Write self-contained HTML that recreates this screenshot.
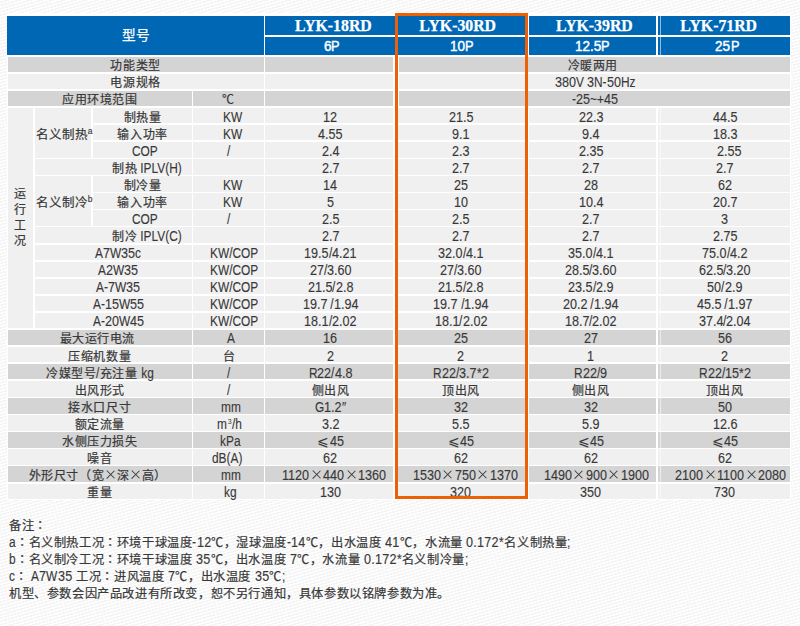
<!DOCTYPE html>
<html lang="zh-CN"><head><meta charset="utf-8"><style>
html,body{margin:0;padding:0;}
body{width:800px;height:626px;overflow:hidden;position:relative;background:repeating-linear-gradient(164deg,#fefefe 0 1.5px,#f5f5f5 1.5px 3.1px);
font-family:"Liberation Sans",sans-serif;color:#383838;-webkit-text-stroke:0.2px #383838;}
.b{position:absolute;}
.t,.hd,.hm,.hp{position:absolute;width:300px;text-align:center;white-space:pre;font-size:14px;line-height:15.45px;height:15.45px;}
.z{font-size:12.0px;letter-spacing:0.6px;}
.l{display:inline-block;transform-origin:0 0;white-space:pre;-webkit-text-stroke:0.12px #383838;}
.x{display:inline-block;position:relative;width:14px;height:9.6px;vertical-align:0.3px;-webkit-text-stroke:0;}
.x::before,.x::after{content:'';position:absolute;left:1.3px;top:4.0px;width:11.4px;height:1.1px;background:#3a3a3a;transform:rotate(45deg);}
.x::after{transform:rotate(-45deg);}
.xs{width:12.5px;} .xs::before,.xs::after{left:0.45px;}
.hd,.hm,.hp{-webkit-text-stroke:0.25px #fff;} .hd{color:#fff;} .hd .z{font-size:13.6px;letter-spacing:0;}
.hm{color:#fff;font-family:"Liberation Serif",serif;font-weight:bold;font-size:15.8px;line-height:18.4px;}
.hm .l{transform:none !important;margin-right:0 !important;} .hd .l,.hm .l{-webkit-text-stroke:0.25px #fff;} .hp .l{-webkit-text-stroke:0.45px #fff;}
.hp{color:#fff;font-size:15px;line-height:18.3px;-webkit-text-stroke:0.4px #fff;}
.vt{position:absolute;width:20px;text-align:center;font-size:12.0px;line-height:15.8px;}
.le{font-size:14px;-webkit-text-stroke:0;margin-right:0.5px;}
.s3{font-size:7px;vertical-align:5px;-webkit-text-stroke:0;margin:0 0.5px;}
sup{font-size:8.5px;line-height:0;vertical-align:5px;-webkit-text-stroke:0.15px #383838;}
.ob{position:absolute;border:3.3px solid #ee6008;box-sizing:border-box;}
.nt{position:absolute;font-size:14px;white-space:pre;line-height:17px;} .nt .z{font-size:12.25px;letter-spacing:0.6px;} .nt .l{letter-spacing:0.3px;}
</style></head><body>
<div class="b" style="left:6.5px;top:13px;width:784.5px;height:487px;background:#fff"></div>
<div class="b" style="left:7.20px;top:16.20px;width:256.40px;height:38.70px;background:#0067b5"></div>
<div class="b" style="left:265.40px;top:16.20px;width:130.10px;height:18.40px;background:#0067b5"></div>
<div class="b" style="left:265.40px;top:36.60px;width:130.10px;height:18.30px;background:#0067b5"></div>
<div class="b" style="left:395.00px;top:16.20px;width:131.70px;height:18.40px;background:#0067b5"></div>
<div class="b" style="left:395.00px;top:36.60px;width:131.70px;height:18.30px;background:#0067b5"></div>
<div class="b" style="left:528.50px;top:16.20px;width:127.50px;height:18.40px;background:#0067b5"></div>
<div class="b" style="left:528.50px;top:36.60px;width:127.50px;height:18.30px;background:#0067b5"></div>
<div class="b" style="left:658.30px;top:16.20px;width:132.20px;height:18.40px;background:#0067b5"></div>
<div class="b" style="left:658.30px;top:36.60px;width:132.20px;height:18.30px;background:#0067b5"></div>
<div class="b" style="left:7.50px;top:56.75px;width:256.10px;height:15.45px;background:#d4d4d4"></div>
<div class="b" style="left:265.40px;top:56.75px;width:127.90px;height:15.45px;background:#d4d4d4"></div>
<div class="b" style="left:398.90px;top:56.75px;width:391.60px;height:15.45px;background:#d4d4d4"></div>
<div class="b" style="left:7.50px;top:73.82px;width:256.10px;height:15.45px;background:#f0f0f0"></div>
<div class="b" style="left:265.40px;top:73.82px;width:127.90px;height:15.45px;background:#f0f0f0"></div>
<div class="b" style="left:398.90px;top:73.82px;width:391.60px;height:15.45px;background:#f0f0f0"></div>
<div class="b" style="left:7.50px;top:90.89px;width:184.50px;height:15.45px;background:#d4d4d4"></div>
<div class="b" style="left:193.00px;top:90.89px;width:70.60px;height:15.45px;background:#d4d4d4"></div>
<div class="b" style="left:265.40px;top:90.89px;width:127.90px;height:15.45px;background:#d4d4d4"></div>
<div class="b" style="left:398.90px;top:90.89px;width:391.60px;height:15.45px;background:#d4d4d4"></div>
<div class="b" style="left:92.50px;top:107.96px;width:99.50px;height:15.45px;background:#f0f0f0"></div>
<div class="b" style="left:193.00px;top:107.96px;width:70.60px;height:15.45px;background:#f0f0f0"></div>
<div class="b" style="left:265.40px;top:107.96px;width:127.90px;height:15.45px;background:#f0f0f0"></div>
<div class="b" style="left:395.00px;top:107.96px;width:131.70px;height:15.45px;background:#f0f0f0"></div>
<div class="b" style="left:528.50px;top:107.96px;width:127.50px;height:15.45px;background:#f0f0f0"></div>
<div class="b" style="left:658.30px;top:107.96px;width:132.20px;height:15.45px;background:#f0f0f0"></div>
<div class="b" style="left:92.50px;top:125.03px;width:99.50px;height:15.45px;background:#f0f0f0"></div>
<div class="b" style="left:193.00px;top:125.03px;width:70.60px;height:15.45px;background:#f0f0f0"></div>
<div class="b" style="left:265.40px;top:125.03px;width:127.90px;height:15.45px;background:#f0f0f0"></div>
<div class="b" style="left:395.00px;top:125.03px;width:131.70px;height:15.45px;background:#f0f0f0"></div>
<div class="b" style="left:528.50px;top:125.03px;width:127.50px;height:15.45px;background:#f0f0f0"></div>
<div class="b" style="left:658.30px;top:125.03px;width:132.20px;height:15.45px;background:#f0f0f0"></div>
<div class="b" style="left:92.50px;top:142.10px;width:99.50px;height:15.45px;background:#f0f0f0"></div>
<div class="b" style="left:193.00px;top:142.10px;width:70.60px;height:15.45px;background:#f0f0f0"></div>
<div class="b" style="left:265.40px;top:142.10px;width:127.90px;height:15.45px;background:#f0f0f0"></div>
<div class="b" style="left:395.00px;top:142.10px;width:131.70px;height:15.45px;background:#f0f0f0"></div>
<div class="b" style="left:528.50px;top:142.10px;width:127.50px;height:15.45px;background:#f0f0f0"></div>
<div class="b" style="left:658.30px;top:142.10px;width:132.20px;height:15.45px;background:#f0f0f0"></div>
<div class="b" style="left:34.80px;top:159.17px;width:157.20px;height:15.45px;background:#f0f0f0"></div>
<div class="b" style="left:193.00px;top:159.17px;width:70.60px;height:15.45px;background:#f0f0f0"></div>
<div class="b" style="left:265.40px;top:159.17px;width:127.90px;height:15.45px;background:#f0f0f0"></div>
<div class="b" style="left:395.00px;top:159.17px;width:131.70px;height:15.45px;background:#f0f0f0"></div>
<div class="b" style="left:528.50px;top:159.17px;width:127.50px;height:15.45px;background:#f0f0f0"></div>
<div class="b" style="left:658.30px;top:159.17px;width:132.20px;height:15.45px;background:#f0f0f0"></div>
<div class="b" style="left:92.50px;top:176.24px;width:99.50px;height:15.45px;background:#f0f0f0"></div>
<div class="b" style="left:193.00px;top:176.24px;width:70.60px;height:15.45px;background:#f0f0f0"></div>
<div class="b" style="left:265.40px;top:176.24px;width:127.90px;height:15.45px;background:#f0f0f0"></div>
<div class="b" style="left:395.00px;top:176.24px;width:131.70px;height:15.45px;background:#f0f0f0"></div>
<div class="b" style="left:528.50px;top:176.24px;width:127.50px;height:15.45px;background:#f0f0f0"></div>
<div class="b" style="left:658.30px;top:176.24px;width:132.20px;height:15.45px;background:#f0f0f0"></div>
<div class="b" style="left:92.50px;top:193.31px;width:99.50px;height:15.45px;background:#f0f0f0"></div>
<div class="b" style="left:193.00px;top:193.31px;width:70.60px;height:15.45px;background:#f0f0f0"></div>
<div class="b" style="left:265.40px;top:193.31px;width:127.90px;height:15.45px;background:#f0f0f0"></div>
<div class="b" style="left:395.00px;top:193.31px;width:131.70px;height:15.45px;background:#f0f0f0"></div>
<div class="b" style="left:528.50px;top:193.31px;width:127.50px;height:15.45px;background:#f0f0f0"></div>
<div class="b" style="left:658.30px;top:193.31px;width:132.20px;height:15.45px;background:#f0f0f0"></div>
<div class="b" style="left:92.50px;top:210.38px;width:99.50px;height:15.45px;background:#f0f0f0"></div>
<div class="b" style="left:193.00px;top:210.38px;width:70.60px;height:15.45px;background:#f0f0f0"></div>
<div class="b" style="left:265.40px;top:210.38px;width:127.90px;height:15.45px;background:#f0f0f0"></div>
<div class="b" style="left:395.00px;top:210.38px;width:131.70px;height:15.45px;background:#f0f0f0"></div>
<div class="b" style="left:528.50px;top:210.38px;width:127.50px;height:15.45px;background:#f0f0f0"></div>
<div class="b" style="left:658.30px;top:210.38px;width:132.20px;height:15.45px;background:#f0f0f0"></div>
<div class="b" style="left:34.80px;top:227.45px;width:157.20px;height:15.45px;background:#f0f0f0"></div>
<div class="b" style="left:193.00px;top:227.45px;width:70.60px;height:15.45px;background:#f0f0f0"></div>
<div class="b" style="left:265.40px;top:227.45px;width:127.90px;height:15.45px;background:#f0f0f0"></div>
<div class="b" style="left:395.00px;top:227.45px;width:131.70px;height:15.45px;background:#f0f0f0"></div>
<div class="b" style="left:528.50px;top:227.45px;width:127.50px;height:15.45px;background:#f0f0f0"></div>
<div class="b" style="left:658.30px;top:227.45px;width:132.20px;height:15.45px;background:#f0f0f0"></div>
<div class="b" style="left:34.80px;top:244.52px;width:157.20px;height:15.45px;background:#f0f0f0"></div>
<div class="b" style="left:193.00px;top:244.52px;width:70.60px;height:15.45px;background:#f0f0f0"></div>
<div class="b" style="left:265.40px;top:244.52px;width:127.90px;height:15.45px;background:#f0f0f0"></div>
<div class="b" style="left:395.00px;top:244.52px;width:131.70px;height:15.45px;background:#f0f0f0"></div>
<div class="b" style="left:528.50px;top:244.52px;width:127.50px;height:15.45px;background:#f0f0f0"></div>
<div class="b" style="left:658.30px;top:244.52px;width:132.20px;height:15.45px;background:#f0f0f0"></div>
<div class="b" style="left:34.80px;top:261.59px;width:157.20px;height:15.45px;background:#f0f0f0"></div>
<div class="b" style="left:193.00px;top:261.59px;width:70.60px;height:15.45px;background:#f0f0f0"></div>
<div class="b" style="left:265.40px;top:261.59px;width:127.90px;height:15.45px;background:#f0f0f0"></div>
<div class="b" style="left:395.00px;top:261.59px;width:131.70px;height:15.45px;background:#f0f0f0"></div>
<div class="b" style="left:528.50px;top:261.59px;width:127.50px;height:15.45px;background:#f0f0f0"></div>
<div class="b" style="left:658.30px;top:261.59px;width:132.20px;height:15.45px;background:#f0f0f0"></div>
<div class="b" style="left:34.80px;top:278.66px;width:157.20px;height:15.45px;background:#f0f0f0"></div>
<div class="b" style="left:193.00px;top:278.66px;width:70.60px;height:15.45px;background:#f0f0f0"></div>
<div class="b" style="left:265.40px;top:278.66px;width:127.90px;height:15.45px;background:#f0f0f0"></div>
<div class="b" style="left:395.00px;top:278.66px;width:131.70px;height:15.45px;background:#f0f0f0"></div>
<div class="b" style="left:528.50px;top:278.66px;width:127.50px;height:15.45px;background:#f0f0f0"></div>
<div class="b" style="left:658.30px;top:278.66px;width:132.20px;height:15.45px;background:#f0f0f0"></div>
<div class="b" style="left:34.80px;top:295.73px;width:157.20px;height:15.45px;background:#f0f0f0"></div>
<div class="b" style="left:193.00px;top:295.73px;width:70.60px;height:15.45px;background:#f0f0f0"></div>
<div class="b" style="left:265.40px;top:295.73px;width:127.90px;height:15.45px;background:#f0f0f0"></div>
<div class="b" style="left:395.00px;top:295.73px;width:131.70px;height:15.45px;background:#f0f0f0"></div>
<div class="b" style="left:528.50px;top:295.73px;width:127.50px;height:15.45px;background:#f0f0f0"></div>
<div class="b" style="left:658.30px;top:295.73px;width:132.20px;height:15.45px;background:#f0f0f0"></div>
<div class="b" style="left:34.80px;top:312.80px;width:157.20px;height:15.45px;background:#f0f0f0"></div>
<div class="b" style="left:193.00px;top:312.80px;width:70.60px;height:15.45px;background:#f0f0f0"></div>
<div class="b" style="left:265.40px;top:312.80px;width:127.90px;height:15.45px;background:#f0f0f0"></div>
<div class="b" style="left:395.00px;top:312.80px;width:131.70px;height:15.45px;background:#f0f0f0"></div>
<div class="b" style="left:528.50px;top:312.80px;width:127.50px;height:15.45px;background:#f0f0f0"></div>
<div class="b" style="left:658.30px;top:312.80px;width:132.20px;height:15.45px;background:#f0f0f0"></div>
<div class="b" style="left:7.50px;top:329.87px;width:184.50px;height:15.45px;background:#d4d4d4"></div>
<div class="b" style="left:193.00px;top:329.87px;width:70.60px;height:15.45px;background:#d4d4d4"></div>
<div class="b" style="left:265.40px;top:329.87px;width:127.90px;height:15.45px;background:#d4d4d4"></div>
<div class="b" style="left:395.00px;top:329.87px;width:131.70px;height:15.45px;background:#d4d4d4"></div>
<div class="b" style="left:528.50px;top:329.87px;width:127.50px;height:15.45px;background:#d4d4d4"></div>
<div class="b" style="left:658.30px;top:329.87px;width:132.20px;height:15.45px;background:#d4d4d4"></div>
<div class="b" style="left:7.50px;top:346.94px;width:184.50px;height:15.45px;background:#f0f0f0"></div>
<div class="b" style="left:193.00px;top:346.94px;width:70.60px;height:15.45px;background:#f0f0f0"></div>
<div class="b" style="left:265.40px;top:346.94px;width:127.90px;height:15.45px;background:#f0f0f0"></div>
<div class="b" style="left:395.00px;top:346.94px;width:131.70px;height:15.45px;background:#f0f0f0"></div>
<div class="b" style="left:528.50px;top:346.94px;width:127.50px;height:15.45px;background:#f0f0f0"></div>
<div class="b" style="left:658.30px;top:346.94px;width:132.20px;height:15.45px;background:#f0f0f0"></div>
<div class="b" style="left:7.50px;top:364.01px;width:184.50px;height:15.45px;background:#d4d4d4"></div>
<div class="b" style="left:193.00px;top:364.01px;width:70.60px;height:15.45px;background:#d4d4d4"></div>
<div class="b" style="left:265.40px;top:364.01px;width:127.90px;height:15.45px;background:#d4d4d4"></div>
<div class="b" style="left:395.00px;top:364.01px;width:131.70px;height:15.45px;background:#d4d4d4"></div>
<div class="b" style="left:528.50px;top:364.01px;width:127.50px;height:15.45px;background:#d4d4d4"></div>
<div class="b" style="left:658.30px;top:364.01px;width:132.20px;height:15.45px;background:#d4d4d4"></div>
<div class="b" style="left:7.50px;top:381.08px;width:184.50px;height:15.45px;background:#f0f0f0"></div>
<div class="b" style="left:193.00px;top:381.08px;width:70.60px;height:15.45px;background:#f0f0f0"></div>
<div class="b" style="left:265.40px;top:381.08px;width:127.90px;height:15.45px;background:#f0f0f0"></div>
<div class="b" style="left:395.00px;top:381.08px;width:131.70px;height:15.45px;background:#f0f0f0"></div>
<div class="b" style="left:528.50px;top:381.08px;width:127.50px;height:15.45px;background:#f0f0f0"></div>
<div class="b" style="left:658.30px;top:381.08px;width:132.20px;height:15.45px;background:#f0f0f0"></div>
<div class="b" style="left:7.50px;top:398.15px;width:184.50px;height:15.45px;background:#d4d4d4"></div>
<div class="b" style="left:193.00px;top:398.15px;width:70.60px;height:15.45px;background:#d4d4d4"></div>
<div class="b" style="left:265.40px;top:398.15px;width:127.90px;height:15.45px;background:#d4d4d4"></div>
<div class="b" style="left:395.00px;top:398.15px;width:131.70px;height:15.45px;background:#d4d4d4"></div>
<div class="b" style="left:528.50px;top:398.15px;width:127.50px;height:15.45px;background:#d4d4d4"></div>
<div class="b" style="left:658.30px;top:398.15px;width:132.20px;height:15.45px;background:#d4d4d4"></div>
<div class="b" style="left:7.50px;top:415.22px;width:184.50px;height:15.45px;background:#f0f0f0"></div>
<div class="b" style="left:193.00px;top:415.22px;width:70.60px;height:15.45px;background:#f0f0f0"></div>
<div class="b" style="left:265.40px;top:415.22px;width:127.90px;height:15.45px;background:#f0f0f0"></div>
<div class="b" style="left:395.00px;top:415.22px;width:131.70px;height:15.45px;background:#f0f0f0"></div>
<div class="b" style="left:528.50px;top:415.22px;width:127.50px;height:15.45px;background:#f0f0f0"></div>
<div class="b" style="left:658.30px;top:415.22px;width:132.20px;height:15.45px;background:#f0f0f0"></div>
<div class="b" style="left:7.50px;top:432.29px;width:184.50px;height:15.45px;background:#d4d4d4"></div>
<div class="b" style="left:193.00px;top:432.29px;width:70.60px;height:15.45px;background:#d4d4d4"></div>
<div class="b" style="left:265.40px;top:432.29px;width:127.90px;height:15.45px;background:#d4d4d4"></div>
<div class="b" style="left:395.00px;top:432.29px;width:131.70px;height:15.45px;background:#d4d4d4"></div>
<div class="b" style="left:528.50px;top:432.29px;width:127.50px;height:15.45px;background:#d4d4d4"></div>
<div class="b" style="left:658.30px;top:432.29px;width:132.20px;height:15.45px;background:#d4d4d4"></div>
<div class="b" style="left:7.50px;top:449.36px;width:184.50px;height:15.45px;background:#f0f0f0"></div>
<div class="b" style="left:193.00px;top:449.36px;width:70.60px;height:15.45px;background:#f0f0f0"></div>
<div class="b" style="left:265.40px;top:449.36px;width:127.90px;height:15.45px;background:#f0f0f0"></div>
<div class="b" style="left:395.00px;top:449.36px;width:131.70px;height:15.45px;background:#f0f0f0"></div>
<div class="b" style="left:528.50px;top:449.36px;width:127.50px;height:15.45px;background:#f0f0f0"></div>
<div class="b" style="left:658.30px;top:449.36px;width:132.20px;height:15.45px;background:#f0f0f0"></div>
<div class="b" style="left:7.50px;top:466.43px;width:184.50px;height:15.45px;background:#d4d4d4"></div>
<div class="b" style="left:193.00px;top:466.43px;width:70.60px;height:15.45px;background:#d4d4d4"></div>
<div class="b" style="left:265.40px;top:466.43px;width:127.90px;height:15.45px;background:#d4d4d4"></div>
<div class="b" style="left:395.00px;top:466.43px;width:131.70px;height:15.45px;background:#d4d4d4"></div>
<div class="b" style="left:528.50px;top:466.43px;width:127.50px;height:15.45px;background:#d4d4d4"></div>
<div class="b" style="left:658.30px;top:466.43px;width:132.20px;height:15.45px;background:#d4d4d4"></div>
<div class="b" style="left:7.50px;top:483.50px;width:184.50px;height:15.45px;background:#f0f0f0"></div>
<div class="b" style="left:193.00px;top:483.50px;width:70.60px;height:15.45px;background:#f0f0f0"></div>
<div class="b" style="left:265.40px;top:483.50px;width:127.90px;height:15.45px;background:#f0f0f0"></div>
<div class="b" style="left:395.00px;top:483.50px;width:131.70px;height:15.45px;background:#f0f0f0"></div>
<div class="b" style="left:528.50px;top:483.50px;width:127.50px;height:15.45px;background:#f0f0f0"></div>
<div class="b" style="left:658.30px;top:483.50px;width:132.20px;height:15.45px;background:#f0f0f0"></div>
<div class="b" style="left:660.00px;top:16.20px;width:1.00px;height:38.70px;background:rgba(255,255,255,0.55)"></div>
<div class="b" style="left:660.00px;top:107.96px;width:1.00px;height:390.99px;background:rgba(255,255,255,0.55)"></div>
<div class="b" style="left:7.50px;top:107.96px;width:25.50px;height:220.29px;background:#f0f0f0"></div>
<div class="b" style="left:34.80px;top:107.96px;width:56.00px;height:49.59px;background:#f0f0f0"></div>
<div class="b" style="left:34.80px;top:176.24px;width:56.00px;height:49.59px;background:#f0f0f0"></div>
<div class="hd" style="left:-14.00px;top:27.70px;"><span class="z">型号</span></div>
<div class="hm" style="left:183.40px;top:16.60px;"><span class="l" style="transform:scaleX(0.85);margin-right:-4.51px">LYK-</span><span class="l" style="transform:scaleX(0.9);margin-right:-1.56px">18</span><span class="l" style="transform:scaleX(0.85);margin-right:-3.04px">RD</span></div>
<div class="hp" style="left:181.70px;top:36.60px;"><span class="l" style="transform:scaleX(0.9);margin-right:-0.78px">6</span><span class="l" style="transform:scaleX(0.85);margin-right:-1.40px">P</span></div>
<div class="hm" style="left:307.70px;top:16.60px;"><span class="l" style="transform:scaleX(0.85);margin-right:-4.51px">LYK-</span><span class="l" style="transform:scaleX(0.9);margin-right:-1.56px">30</span><span class="l" style="transform:scaleX(0.85);margin-right:-3.04px">RD</span></div>
<div class="hp" style="left:311.80px;top:36.60px;"><span class="l" style="transform:scaleX(0.9);margin-right:-1.56px">10</span><span class="l" style="transform:scaleX(0.85);margin-right:-1.40px">P</span></div>
<div class="hm" style="left:444.40px;top:16.60px;"><span class="l" style="transform:scaleX(0.85);margin-right:-4.51px">LYK-</span><span class="l" style="transform:scaleX(0.9);margin-right:-1.56px">39</span><span class="l" style="transform:scaleX(0.85);margin-right:-3.04px">RD</span></div>
<div class="hp" style="left:442.50px;top:36.60px;"><span class="l" style="transform:scaleX(0.9);margin-right:-2.72px">12.5</span><span class="l" style="transform:scaleX(0.85);margin-right:-1.40px">P</span></div>
<div class="hm" style="left:568.70px;top:16.60px;"><span class="l" style="transform:scaleX(0.85);margin-right:-4.51px">LYK-</span><span class="l" style="transform:scaleX(0.9);margin-right:-1.56px">71</span><span class="l" style="transform:scaleX(0.85);margin-right:-3.04px">RD</span></div>
<div class="hp" style="left:577.30px;top:36.60px;"><span class="l" style="transform:scaleX(0.9);margin-right:-1.56px">25</span><span class="l" style="transform:scaleX(0.85);margin-right:-1.40px">P</span></div>
<div class="t" style="left:-14.45px;top:58.35px;"><span class="z">功能类型</span></div>
<div class="t" style="left:442.80px;top:58.35px;"><span class="z">冷暖两用</span></div>
<div class="t" style="left:-14.45px;top:75.42px;"><span class="z">电源规格</span></div>
<div class="t" style="left:445.00px;top:75.42px;"><span class="l" style="transform:scaleX(0.9);margin-right:-2.34px">380</span><span class="l" style="transform:scaleX(0.85);margin-right:-1.99px">V </span><span class="l" style="transform:scaleX(0.9);margin-right:-0.78px">3</span><span class="l" style="transform:scaleX(0.85);margin-right:-2.22px">N-</span><span class="l" style="transform:scaleX(0.9);margin-right:-1.56px">50</span><span class="l" style="transform:scaleX(0.85);margin-right:-2.57px">Hz</span></div>
<div class="t" style="left:-50.25px;top:92.49px;"><span class="z">应用环境范围</span></div>
<div class="t" style="left:78.40px;top:92.49px;"><span class="z">℃</span></div>
<div class="t" style="left:445.30px;top:92.49px;"><span class="l" style="transform:scaleX(0.85);margin-right:-0.70px">-</span><span class="l" style="transform:scaleX(0.9);margin-right:-1.56px">25</span><span class="l" style="transform:scaleX(0.85);margin-right:-2.45px">~+</span><span class="l" style="transform:scaleX(0.9);margin-right:-1.56px">45</span></div>
<div class="t" style="left:-7.40px;top:109.56px;"><span class="z">制热量</span></div>
<div class="t" style="left:82.20px;top:109.56px;"><span class="l" style="transform:scaleX(0.85);margin-right:-3.38px">KW</span></div>
<div class="t" style="left:180.50px;top:109.56px;"><span class="l" style="transform:scaleX(0.9);margin-right:-1.56px">12</span></div>
<div class="t" style="left:311.00px;top:109.56px;"><span class="l" style="transform:scaleX(0.9);margin-right:-2.72px">21.5</span></div>
<div class="t" style="left:440.80px;top:109.56px;"><span class="l" style="transform:scaleX(0.9);margin-right:-2.72px">22.3</span></div>
<div class="t" style="left:574.80px;top:109.56px;"><span class="l" style="transform:scaleX(0.9);margin-right:-2.72px">44.5</span></div>
<div class="t" style="left:-7.40px;top:126.63px;"><span class="z">输入功率</span></div>
<div class="t" style="left:82.20px;top:126.63px;"><span class="l" style="transform:scaleX(0.85);margin-right:-3.38px">KW</span></div>
<div class="t" style="left:180.50px;top:126.63px;"><span class="l" style="transform:scaleX(0.9);margin-right:-2.72px">4.55</span></div>
<div class="t" style="left:311.00px;top:126.63px;"><span class="l" style="transform:scaleX(0.9);margin-right:-1.95px">9.1</span></div>
<div class="t" style="left:440.80px;top:126.63px;"><span class="l" style="transform:scaleX(0.9);margin-right:-1.95px">9.4</span></div>
<div class="t" style="left:574.80px;top:126.63px;"><span class="l" style="transform:scaleX(0.9);margin-right:-2.72px">18.3</span></div>
<div class="t" style="left:-4.90px;top:143.70px;"><span class="l" style="transform:scaleX(0.85);margin-right:-4.55px">COP</span></div>
<div class="t" style="left:78.30px;top:143.70px;"><span class="l" style="transform:scaleX(0.85);margin-right:-0.58px">/</span></div>
<div class="t" style="left:180.50px;top:143.70px;"><span class="l" style="transform:scaleX(0.9);margin-right:-1.95px">2.4</span></div>
<div class="t" style="left:311.00px;top:143.70px;"><span class="l" style="transform:scaleX(0.9);margin-right:-1.95px">2.3</span></div>
<div class="t" style="left:440.80px;top:143.70px;"><span class="l" style="transform:scaleX(0.9);margin-right:-2.72px">2.35</span></div>
<div class="t" style="left:579.20px;top:143.70px;"><span class="l" style="transform:scaleX(0.9);margin-right:-2.72px">2.55</span></div>
<div class="t" style="left:-2.80px;top:160.77px;"><span class="z">制热</span><span class="l" style="transform:scaleX(0.85);margin-right:-7.90px"> IPLV(H)</span></div>
<div class="t" style="left:180.50px;top:160.77px;"><span class="l" style="transform:scaleX(0.9);margin-right:-1.95px">2.7</span></div>
<div class="t" style="left:311.00px;top:160.77px;"><span class="l" style="transform:scaleX(0.9);margin-right:-1.95px">2.7</span></div>
<div class="t" style="left:440.80px;top:160.77px;"><span class="l" style="transform:scaleX(0.9);margin-right:-1.95px">2.7</span></div>
<div class="t" style="left:574.80px;top:160.77px;"><span class="l" style="transform:scaleX(0.9);margin-right:-1.95px">2.7</span></div>
<div class="t" style="left:-7.40px;top:177.84px;"><span class="z">制冷量</span></div>
<div class="t" style="left:82.20px;top:177.84px;"><span class="l" style="transform:scaleX(0.85);margin-right:-3.38px">KW</span></div>
<div class="t" style="left:180.50px;top:177.84px;"><span class="l" style="transform:scaleX(0.9);margin-right:-1.56px">14</span></div>
<div class="t" style="left:311.00px;top:177.84px;"><span class="l" style="transform:scaleX(0.9);margin-right:-1.56px">25</span></div>
<div class="t" style="left:440.80px;top:177.84px;"><span class="l" style="transform:scaleX(0.9);margin-right:-1.56px">28</span></div>
<div class="t" style="left:574.80px;top:177.84px;"><span class="l" style="transform:scaleX(0.9);margin-right:-1.56px">62</span></div>
<div class="t" style="left:-7.40px;top:194.91px;"><span class="z">输入功率</span></div>
<div class="t" style="left:82.20px;top:194.91px;"><span class="l" style="transform:scaleX(0.85);margin-right:-3.38px">KW</span></div>
<div class="t" style="left:180.50px;top:194.91px;"><span class="l" style="transform:scaleX(0.9);margin-right:-0.78px">5</span></div>
<div class="t" style="left:311.00px;top:194.91px;"><span class="l" style="transform:scaleX(0.9);margin-right:-1.56px">10</span></div>
<div class="t" style="left:440.80px;top:194.91px;"><span class="l" style="transform:scaleX(0.9);margin-right:-2.72px">10.4</span></div>
<div class="t" style="left:574.80px;top:194.91px;"><span class="l" style="transform:scaleX(0.9);margin-right:-2.72px">20.7</span></div>
<div class="t" style="left:-4.90px;top:211.98px;"><span class="l" style="transform:scaleX(0.85);margin-right:-4.55px">COP</span></div>
<div class="t" style="left:78.30px;top:211.98px;"><span class="l" style="transform:scaleX(0.85);margin-right:-0.58px">/</span></div>
<div class="t" style="left:180.50px;top:211.98px;"><span class="l" style="transform:scaleX(0.9);margin-right:-1.95px">2.5</span></div>
<div class="t" style="left:311.00px;top:211.98px;"><span class="l" style="transform:scaleX(0.9);margin-right:-1.95px">2.5</span></div>
<div class="t" style="left:440.80px;top:211.98px;"><span class="l" style="transform:scaleX(0.9);margin-right:-1.95px">2.7</span></div>
<div class="t" style="left:574.80px;top:211.98px;"><span class="l" style="transform:scaleX(0.9);margin-right:-0.78px">3</span></div>
<div class="t" style="left:-2.80px;top:229.05px;"><span class="z">制冷</span><span class="l" style="transform:scaleX(0.85);margin-right:-7.90px"> IPLV(C)</span></div>
<div class="t" style="left:180.50px;top:229.05px;"><span class="l" style="transform:scaleX(0.9);margin-right:-1.95px">2.7</span></div>
<div class="t" style="left:311.00px;top:229.05px;"><span class="l" style="transform:scaleX(0.9);margin-right:-1.95px">2.7</span></div>
<div class="t" style="left:440.80px;top:229.05px;"><span class="l" style="transform:scaleX(0.9);margin-right:-1.95px">2.7</span></div>
<div class="t" style="left:574.80px;top:229.05px;"><span class="l" style="transform:scaleX(0.9);margin-right:-2.72px">2.75</span></div>
<div class="t" style="left:-31.80px;top:246.12px;"><span class="l" style="transform:scaleX(0.85);margin-right:-1.40px">A</span><span class="l" style="transform:scaleX(0.9);margin-right:-0.78px">7</span><span class="l" style="transform:scaleX(0.85);margin-right:-1.98px">W</span><span class="l" style="transform:scaleX(0.9);margin-right:-1.56px">35</span><span class="l" style="transform:scaleX(0.85);margin-right:-1.05px">c</span></div>
<div class="t" style="left:84.00px;top:246.12px;"><span class="l" style="transform:scaleX(0.85);margin-right:-8.52px">KW/COP</span></div>
<div class="t" style="left:180.50px;top:246.12px;"><span class="l" style="transform:scaleX(0.9);margin-right:-2.72px">19.5</span><span class="l" style="transform:scaleX(0.85);margin-right:-0.58px">/</span><span class="l" style="transform:scaleX(0.9);margin-right:-2.72px">4.21</span></div>
<div class="t" style="left:311.00px;top:246.12px;"><span class="l" style="transform:scaleX(0.9);margin-right:-2.72px">32.0</span><span class="l" style="transform:scaleX(0.85);margin-right:-0.58px">/</span><span class="l" style="transform:scaleX(0.9);margin-right:-1.95px">4.1</span></div>
<div class="t" style="left:440.80px;top:246.12px;"><span class="l" style="transform:scaleX(0.9);margin-right:-2.72px">35.0</span><span class="l" style="transform:scaleX(0.85);margin-right:-0.58px">/</span><span class="l" style="transform:scaleX(0.9);margin-right:-1.95px">4.1</span></div>
<div class="t" style="left:574.80px;top:246.12px;"><span class="l" style="transform:scaleX(0.9);margin-right:-2.72px">75.0</span><span class="l" style="transform:scaleX(0.85);margin-right:-0.58px">/</span><span class="l" style="transform:scaleX(0.9);margin-right:-1.95px">4.2</span></div>
<div class="t" style="left:-31.80px;top:263.19px;"><span class="l" style="transform:scaleX(0.85);margin-right:-1.40px">A</span><span class="l" style="transform:scaleX(0.9);margin-right:-0.78px">2</span><span class="l" style="transform:scaleX(0.85);margin-right:-1.98px">W</span><span class="l" style="transform:scaleX(0.9);margin-right:-1.56px">35</span></div>
<div class="t" style="left:84.00px;top:263.19px;"><span class="l" style="transform:scaleX(0.85);margin-right:-8.52px">KW/COP</span></div>
<div class="t" style="left:180.50px;top:263.19px;"><span class="l" style="transform:scaleX(0.9);margin-right:-1.56px">27</span><span class="l" style="transform:scaleX(0.85);margin-right:-0.58px">/</span><span class="l" style="transform:scaleX(0.9);margin-right:-2.72px">3.60</span></div>
<div class="t" style="left:311.00px;top:263.19px;"><span class="l" style="transform:scaleX(0.9);margin-right:-1.56px">27</span><span class="l" style="transform:scaleX(0.85);margin-right:-0.58px">/</span><span class="l" style="transform:scaleX(0.9);margin-right:-2.72px">3.60</span></div>
<div class="t" style="left:440.80px;top:263.19px;"><span class="l" style="transform:scaleX(0.9);margin-right:-2.72px">28.5</span><span class="l" style="transform:scaleX(0.85);margin-right:-0.58px">/</span><span class="l" style="transform:scaleX(0.9);margin-right:-2.72px">3.60</span></div>
<div class="t" style="left:574.80px;top:263.19px;"><span class="l" style="transform:scaleX(0.9);margin-right:-2.72px">62.5</span><span class="l" style="transform:scaleX(0.85);margin-right:-0.58px">/</span><span class="l" style="transform:scaleX(0.9);margin-right:-2.72px">3.20</span></div>
<div class="t" style="left:-31.80px;top:280.26px;"><span class="l" style="transform:scaleX(0.85);margin-right:-2.10px">A-</span><span class="l" style="transform:scaleX(0.9);margin-right:-0.78px">7</span><span class="l" style="transform:scaleX(0.85);margin-right:-1.98px">W</span><span class="l" style="transform:scaleX(0.9);margin-right:-1.56px">35</span></div>
<div class="t" style="left:84.00px;top:280.26px;"><span class="l" style="transform:scaleX(0.85);margin-right:-8.52px">KW/COP</span></div>
<div class="t" style="left:180.50px;top:280.26px;"><span class="l" style="transform:scaleX(0.9);margin-right:-2.72px">21.5</span><span class="l" style="transform:scaleX(0.85);margin-right:-0.58px">/</span><span class="l" style="transform:scaleX(0.9);margin-right:-1.95px">2.8</span></div>
<div class="t" style="left:311.00px;top:280.26px;"><span class="l" style="transform:scaleX(0.9);margin-right:-2.72px">21.5</span><span class="l" style="transform:scaleX(0.85);margin-right:-0.58px">/</span><span class="l" style="transform:scaleX(0.9);margin-right:-1.95px">2.8</span></div>
<div class="t" style="left:440.80px;top:280.26px;"><span class="l" style="transform:scaleX(0.9);margin-right:-2.72px">23.5</span><span class="l" style="transform:scaleX(0.85);margin-right:-0.58px">/</span><span class="l" style="transform:scaleX(0.9);margin-right:-1.95px">2.9</span></div>
<div class="t" style="left:574.80px;top:280.26px;"><span class="l" style="transform:scaleX(0.9);margin-right:-1.56px">50</span><span class="l" style="transform:scaleX(0.85);margin-right:-0.58px">/</span><span class="l" style="transform:scaleX(0.9);margin-right:-1.95px">2.9</span></div>
<div class="t" style="left:-31.80px;top:297.33px;"><span class="l" style="transform:scaleX(0.85);margin-right:-2.10px">A-</span><span class="l" style="transform:scaleX(0.9);margin-right:-1.56px">15</span><span class="l" style="transform:scaleX(0.85);margin-right:-1.98px">W</span><span class="l" style="transform:scaleX(0.9);margin-right:-1.56px">55</span></div>
<div class="t" style="left:84.00px;top:297.33px;"><span class="l" style="transform:scaleX(0.85);margin-right:-8.52px">KW/COP</span></div>
<div class="t" style="left:180.50px;top:297.33px;"><span class="l" style="transform:scaleX(0.9);margin-right:-2.72px">19.7</span><span class="l" style="transform:scaleX(0.85);margin-right:-1.17px"> /</span><span class="l" style="transform:scaleX(0.9);margin-right:-2.72px">1.94</span></div>
<div class="t" style="left:311.00px;top:297.33px;"><span class="l" style="transform:scaleX(0.9);margin-right:-2.72px">19.7</span><span class="l" style="transform:scaleX(0.85);margin-right:-1.17px"> /</span><span class="l" style="transform:scaleX(0.9);margin-right:-2.72px">1.94</span></div>
<div class="t" style="left:440.80px;top:297.33px;"><span class="l" style="transform:scaleX(0.9);margin-right:-2.72px">20.2</span><span class="l" style="transform:scaleX(0.85);margin-right:-1.17px"> /</span><span class="l" style="transform:scaleX(0.9);margin-right:-2.72px">1.94</span></div>
<div class="t" style="left:574.80px;top:297.33px;"><span class="l" style="transform:scaleX(0.9);margin-right:-2.72px">45.5</span><span class="l" style="transform:scaleX(0.85);margin-right:-1.17px"> /</span><span class="l" style="transform:scaleX(0.9);margin-right:-2.72px">1.97</span></div>
<div class="t" style="left:-31.80px;top:314.40px;"><span class="l" style="transform:scaleX(0.85);margin-right:-2.10px">A-</span><span class="l" style="transform:scaleX(0.9);margin-right:-1.56px">20</span><span class="l" style="transform:scaleX(0.85);margin-right:-1.98px">W</span><span class="l" style="transform:scaleX(0.9);margin-right:-1.56px">45</span></div>
<div class="t" style="left:84.00px;top:314.40px;"><span class="l" style="transform:scaleX(0.85);margin-right:-8.52px">KW/COP</span></div>
<div class="t" style="left:180.50px;top:314.40px;"><span class="l" style="transform:scaleX(0.9);margin-right:-2.72px">18.1</span><span class="l" style="transform:scaleX(0.85);margin-right:-0.58px">/</span><span class="l" style="transform:scaleX(0.9);margin-right:-2.72px">2.02</span></div>
<div class="t" style="left:311.00px;top:314.40px;"><span class="l" style="transform:scaleX(0.9);margin-right:-2.72px">18.1</span><span class="l" style="transform:scaleX(0.85);margin-right:-0.58px">/</span><span class="l" style="transform:scaleX(0.9);margin-right:-2.72px">2.02</span></div>
<div class="t" style="left:440.80px;top:314.40px;"><span class="l" style="transform:scaleX(0.9);margin-right:-2.72px">18.7</span><span class="l" style="transform:scaleX(0.85);margin-right:-0.58px">/</span><span class="l" style="transform:scaleX(0.9);margin-right:-2.72px">2.02</span></div>
<div class="t" style="left:574.80px;top:314.40px;"><span class="l" style="transform:scaleX(0.9);margin-right:-2.72px">37.4</span><span class="l" style="transform:scaleX(0.85);margin-right:-0.58px">/</span><span class="l" style="transform:scaleX(0.9);margin-right:-2.72px">2.04</span></div>
<div class="t" style="left:-52.70px;top:331.47px;"><span class="z">最大运行电流</span></div>
<div class="t" style="left:80.50px;top:331.47px;"><span class="l" style="transform:scaleX(0.85);margin-right:-1.40px">A</span></div>
<div class="t" style="left:180.50px;top:331.47px;"><span class="l" style="transform:scaleX(0.9);margin-right:-1.56px">16</span></div>
<div class="t" style="left:311.00px;top:331.47px;"><span class="l" style="transform:scaleX(0.9);margin-right:-1.56px">25</span></div>
<div class="t" style="left:440.80px;top:331.47px;"><span class="l" style="transform:scaleX(0.9);margin-right:-1.56px">27</span></div>
<div class="t" style="left:574.80px;top:331.47px;"><span class="l" style="transform:scaleX(0.9);margin-right:-1.56px">56</span></div>
<div class="t" style="left:-50.25px;top:348.54px;"><span class="z">压缩机数量</span></div>
<div class="t" style="left:79.00px;top:348.54px;"><span class="z">台</span></div>
<div class="t" style="left:180.50px;top:348.54px;"><span class="l" style="transform:scaleX(0.9);margin-right:-0.78px">2</span></div>
<div class="t" style="left:311.00px;top:348.54px;"><span class="l" style="transform:scaleX(0.9);margin-right:-0.78px">2</span></div>
<div class="t" style="left:440.80px;top:348.54px;"><span class="l" style="transform:scaleX(0.9);margin-right:-0.78px">1</span></div>
<div class="t" style="left:574.80px;top:348.54px;"><span class="l" style="transform:scaleX(0.9);margin-right:-0.78px">2</span></div>
<div class="t" style="left:-50.25px;top:365.61px;"><span class="z">冷媒型号</span><span class="l" style="transform:scaleX(0.85);margin-right:-0.58px">/</span><span class="z">充注量</span><span class="l" style="transform:scaleX(0.85);margin-right:-2.80px"> kg</span></div>
<div class="t" style="left:78.30px;top:365.61px;"><span class="l" style="transform:scaleX(0.85);margin-right:-0.58px">/</span></div>
<div class="t" style="left:180.50px;top:365.61px;"><span class="l" style="transform:scaleX(0.85);margin-right:-1.52px">R</span><span class="l" style="transform:scaleX(0.9);margin-right:-1.56px">22</span><span class="l" style="transform:scaleX(0.85);margin-right:-0.58px">/</span><span class="l" style="transform:scaleX(0.9);margin-right:-1.95px">4.8</span></div>
<div class="t" style="left:311.00px;top:365.61px;"><span class="l" style="transform:scaleX(0.85);margin-right:-1.52px">R</span><span class="l" style="transform:scaleX(0.9);margin-right:-1.56px">22</span><span class="l" style="transform:scaleX(0.85);margin-right:-0.58px">/</span><span class="l" style="transform:scaleX(0.9);margin-right:-1.95px">3.7</span><span class="l" style="transform:scaleX(0.85);margin-right:-0.82px">*</span><span class="l" style="transform:scaleX(0.9);margin-right:-0.78px">2</span></div>
<div class="t" style="left:440.80px;top:365.61px;"><span class="l" style="transform:scaleX(0.85);margin-right:-1.52px">R</span><span class="l" style="transform:scaleX(0.9);margin-right:-1.56px">22</span><span class="l" style="transform:scaleX(0.85);margin-right:-0.58px">/</span><span class="l" style="transform:scaleX(0.9);margin-right:-0.78px">9</span></div>
<div class="t" style="left:574.80px;top:365.61px;"><span class="l" style="transform:scaleX(0.85);margin-right:-1.52px">R</span><span class="l" style="transform:scaleX(0.9);margin-right:-1.56px">22</span><span class="l" style="transform:scaleX(0.85);margin-right:-0.58px">/</span><span class="l" style="transform:scaleX(0.9);margin-right:-1.56px">15</span><span class="l" style="transform:scaleX(0.85);margin-right:-0.82px">*</span><span class="l" style="transform:scaleX(0.9);margin-right:-0.78px">2</span></div>
<div class="t" style="left:-50.25px;top:382.68px;"><span class="z">出风形式</span></div>
<div class="t" style="left:78.30px;top:382.68px;"><span class="l" style="transform:scaleX(0.85);margin-right:-0.58px">/</span></div>
<div class="t" style="left:180.50px;top:382.68px;"><span class="z">侧出风</span></div>
<div class="t" style="left:311.00px;top:382.68px;"><span class="z">顶出风</span></div>
<div class="t" style="left:440.80px;top:382.68px;"><span class="z">侧出风</span></div>
<div class="t" style="left:574.80px;top:382.68px;"><span class="z">顶出风</span></div>
<div class="t" style="left:-50.25px;top:399.75px;"><span class="z">接水口尺寸</span></div>
<div class="t" style="left:80.50px;top:399.75px;"><span class="l" style="transform:scaleX(0.85);margin-right:-3.50px">mm</span></div>
<div class="t" style="left:180.50px;top:399.75px;"><span class="l" style="transform:scaleX(0.85);margin-right:-1.63px">G</span><span class="l" style="transform:scaleX(0.9);margin-right:-1.95px">1.2</span><span class="l" style="transform:scaleX(0.85);margin-right:-0.75px">″</span></div>
<div class="t" style="left:311.00px;top:399.75px;"><span class="l" style="transform:scaleX(0.9);margin-right:-1.56px">32</span></div>
<div class="t" style="left:440.80px;top:399.75px;"><span class="l" style="transform:scaleX(0.9);margin-right:-1.56px">32</span></div>
<div class="t" style="left:574.80px;top:399.75px;"><span class="l" style="transform:scaleX(0.9);margin-right:-1.56px">50</span></div>
<div class="t" style="left:-50.25px;top:416.82px;"><span class="z">额定流量</span></div>
<div class="t" style="left:79.70px;top:416.82px;"><span class="l" style="transform:scaleX(0.85);margin-right:-1.8px">m</span><sup class="s3">3</sup><span class="l" style="transform:scaleX(0.85);margin-right:-1.6px">/h</span></div>
<div class="t" style="left:180.50px;top:416.82px;"><span class="l" style="transform:scaleX(0.9);margin-right:-1.95px">3.2</span></div>
<div class="t" style="left:311.00px;top:416.82px;"><span class="l" style="transform:scaleX(0.9);margin-right:-1.95px">5.5</span></div>
<div class="t" style="left:440.80px;top:416.82px;"><span class="l" style="transform:scaleX(0.9);margin-right:-1.95px">5.9</span></div>
<div class="t" style="left:574.80px;top:416.82px;"><span class="l" style="transform:scaleX(0.9);margin-right:-2.72px">12.6</span></div>
<div class="t" style="left:-50.25px;top:433.89px;"><span class="z">水侧压力损失</span></div>
<div class="t" style="left:79.80px;top:433.89px;"><span class="l" style="transform:scaleX(0.85);margin-right:-3.62px">kPa</span></div>
<div class="t" style="left:180.50px;top:433.89px;"><span class="le">⩽</span><span class="l" style="transform:scaleX(0.9);margin-right:-1.56px">45</span></div>
<div class="t" style="left:311.00px;top:433.89px;"><span class="le">⩽</span><span class="l" style="transform:scaleX(0.9);margin-right:-1.56px">45</span></div>
<div class="t" style="left:440.80px;top:433.89px;"><span class="le">⩽</span><span class="l" style="transform:scaleX(0.9);margin-right:-1.56px">45</span></div>
<div class="t" style="left:574.80px;top:433.89px;"><span class="le">⩽</span><span class="l" style="transform:scaleX(0.9);margin-right:-1.56px">45</span></div>
<div class="t" style="left:-50.25px;top:450.96px;"><span class="z">噪音</span></div>
<div class="t" style="left:77.00px;top:450.96px;"><span class="l" style="transform:scaleX(0.85);margin-right:-5.37px">dB(A)</span></div>
<div class="t" style="left:180.50px;top:450.96px;"><span class="l" style="transform:scaleX(0.9);margin-right:-1.56px">62</span></div>
<div class="t" style="left:311.00px;top:450.96px;"><span class="l" style="transform:scaleX(0.9);margin-right:-1.56px">62</span></div>
<div class="t" style="left:440.80px;top:450.96px;"><span class="l" style="transform:scaleX(0.9);margin-right:-1.56px">62</span></div>
<div class="t" style="left:574.80px;top:450.96px;"><span class="l" style="transform:scaleX(0.9);margin-right:-1.56px">62</span></div>
<div class="t" style="left:-52.20px;top:468.03px;"><span class="z">外形尺寸（宽</span><span class="x xs"></span><span class="z">深</span><span class="x xs"></span><span class="z">高）</span></div>
<div class="t" style="left:80.50px;top:468.03px;"><span class="l" style="transform:scaleX(0.85);margin-right:-3.50px">mm</span></div>
<div class="t" style="left:184.20px;top:468.03px;"><span class="l" style="transform:scaleX(0.9);margin-right:-3.01px">1120</span><span class="x"></span><span class="l" style="transform:scaleX(0.9);margin-right:-2.34px">440</span><span class="x"></span><span class="l" style="transform:scaleX(0.9);margin-right:-3.12px">1360</span></div>
<div class="t" style="left:315.40px;top:468.03px;"><span class="l" style="transform:scaleX(0.9);margin-right:-3.12px">1530</span><span class="x"></span><span class="l" style="transform:scaleX(0.9);margin-right:-2.34px">750</span><span class="x"></span><span class="l" style="transform:scaleX(0.9);margin-right:-3.12px">1370</span></div>
<div class="t" style="left:446.20px;top:468.03px;"><span class="l" style="transform:scaleX(0.9);margin-right:-3.12px">1490</span><span class="x"></span><span class="l" style="transform:scaleX(0.9);margin-right:-2.34px">900</span><span class="x"></span><span class="l" style="transform:scaleX(0.9);margin-right:-3.12px">1900</span></div>
<div class="t" style="left:580.85px;top:468.03px;"><span class="l" style="transform:scaleX(0.9);margin-right:-3.12px">2100</span><span class="x"></span><span class="l" style="transform:scaleX(0.9);margin-right:-3.01px">1100</span><span class="x"></span><span class="l" style="transform:scaleX(0.9);margin-right:-3.12px">2080</span></div>
<div class="t" style="left:-50.25px;top:485.10px;"><span class="z">重量</span></div>
<div class="t" style="left:79.80px;top:485.10px;"><span class="l" style="transform:scaleX(0.85);margin-right:-2.22px">kg</span></div>
<div class="t" style="left:180.50px;top:485.10px;"><span class="l" style="transform:scaleX(0.9);margin-right:-2.34px">130</span></div>
<div class="t" style="left:311.00px;top:485.10px;"><span class="l" style="transform:scaleX(0.9);margin-right:-2.34px">320</span></div>
<div class="t" style="left:440.80px;top:485.10px;"><span class="l" style="transform:scaleX(0.9);margin-right:-2.34px">350</span></div>
<div class="t" style="left:574.80px;top:485.10px;"><span class="l" style="transform:scaleX(0.9);margin-right:-2.34px">730</span></div>
<div class="vt" style="left:10.25px;top:187px">运<br>行<br>工<br>况</div>
<div class="t" style="left:-86.00px;top:127.83px;font-size:12.5px">名义制热<sup class="s">a</sup></div>
<div class="t" style="left:-86.00px;top:196.11px;font-size:12.5px">名义制冷<sup class="s">b</sup></div>
<div class="nt" style="left:9px;top:517.3px"><span class="z">备注<span lang="zh-TW">：</span></span></div>
<div class="nt" style="left:9px;top:534.3px"><span class="l" style="transform:scaleX(0.85);margin-right:-1.17px">a</span><span class="z"><span lang="zh-TW">：</span>名义制热工况<span lang="zh-TW">：</span>环境干球温度</span><span class="l" style="transform:scaleX(0.85);margin-right:-0.70px">-</span><span class="l" style="transform:scaleX(0.9);margin-right:-1.56px">12</span><span class="z">℃，湿球温度</span><span class="l" style="transform:scaleX(0.85);margin-right:-0.70px">-</span><span class="l" style="transform:scaleX(0.9);margin-right:-1.56px">14</span><span class="z">℃，出水温度</span><span class="l" style="transform:scaleX(0.85);margin-right:-0.58px"> </span><span class="l" style="transform:scaleX(0.9);margin-right:-1.56px">41</span><span class="z">℃，水流量</span><span class="l" style="transform:scaleX(0.85);margin-right:-0.58px"> </span><span class="l" style="transform:scaleX(0.9);margin-right:-3.50px">0.172</span><span class="l" style="transform:scaleX(0.85);margin-right:-0.82px">*</span><span class="z">名义制热量</span><span class="l" style="transform:scaleX(0.85);margin-right:-0.58px">;</span></div>
<div class="nt" style="left:9px;top:551.3px"><span class="l" style="transform:scaleX(0.85);margin-right:-1.17px">b</span><span class="z"><span lang="zh-TW">：</span>名义制冷工况<span lang="zh-TW">：</span>环境干球温度</span><span class="l" style="transform:scaleX(0.85);margin-right:-0.58px"> </span><span class="l" style="transform:scaleX(0.9);margin-right:-1.56px">35</span><span class="z">℃，出水温度</span><span class="l" style="transform:scaleX(0.85);margin-right:-0.58px"> </span><span class="l" style="transform:scaleX(0.9);margin-right:-0.78px">7</span><span class="z">℃，水流量</span><span class="l" style="transform:scaleX(0.85);margin-right:-0.58px"> </span><span class="l" style="transform:scaleX(0.9);margin-right:-3.50px">0.172</span><span class="l" style="transform:scaleX(0.85);margin-right:-0.82px">*</span><span class="z">名义制冷量</span><span class="l" style="transform:scaleX(0.85);margin-right:-0.58px">;</span></div>
<div class="nt" style="left:9px;top:568.3px"><span class="l" style="transform:scaleX(0.85);margin-right:-1.05px">c</span><span class="z"><span lang="zh-TW">：</span></span><span class="l" style="transform:scaleX(0.85);margin-right:-1.87px"> A</span><span class="l" style="transform:scaleX(0.9);margin-right:-0.78px">7</span><span class="l" style="transform:scaleX(0.85);margin-right:-1.98px">W</span><span class="l" style="transform:scaleX(0.9);margin-right:-1.56px">35</span><span class="l" style="transform:scaleX(0.85);margin-right:-0.58px"> </span><span class="z">工况<span lang="zh-TW">：</span>进风温度</span><span class="l" style="transform:scaleX(0.85);margin-right:-0.58px"> </span><span class="l" style="transform:scaleX(0.9);margin-right:-0.78px">7</span><span class="z">℃，出水温度</span><span class="l" style="transform:scaleX(0.85);margin-right:-0.58px"> </span><span class="l" style="transform:scaleX(0.9);margin-right:-1.56px">35</span><span class="z">℃</span><span class="l" style="transform:scaleX(0.85);margin-right:-0.58px">;</span></div>
<div class="nt" style="left:9px;top:585.3px"><span class="z">机型、参数会因产品改进有所改变，恕不另行通知，具体参数以铭牌参数为准。</span></div>
<div class="ob" style="left:394.6px;top:13.2px;width:133.4px;height:486px"></div>
</body></html>
